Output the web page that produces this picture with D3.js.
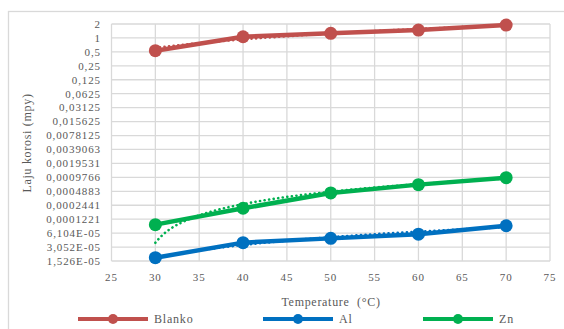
<!DOCTYPE html>
<html><head><meta charset="utf-8">
<script src="https://cdn.jsdelivr.net/npm/d3@7"></script>
<style>
html,body{margin:0;padding:0;background:#fff;}
svg{display:block;}
</style></head>
<body>
<svg id="c" width="564" height="329"></svg>
<script>
const temperatures = [30, 40, 50, 60, 70];
const seriesNames = ["Blanko", "Al", "Zn"];
const blanko = [0.53, 1.06, 1.26, 1.48, 1.9];
const al = [1.8e-5, 3.8e-5, 4.7e-5, 5.8e-5, 8.8e-5];
const zn = [9.3e-5, 2.1e-4, 4.5e-4, 6.8e-4, 9.6e-4];
const colors = ["#c0504d", "#0070c0", "#00b050"];
const xTicks = [25, 30, 35, 40, 45, 50, 55, 60, 65, 70, 75];
const yTickLabels = ["1,526E-05","3,052E-05","6,104E-05","0,0001221","0,0002441","0,0004883","0,0009766","0,0019531","0,0039063","0,0078125","0,015625","0,03125","0,0625","0,125","0,25","0,5","1","2"];
const yTickValues = d3.range(-16, 2).map(k => Math.pow(2, k));
const xTitle = "Temperature\u00a0 (°C)";
const yTitle = "Laju korosi (mpy)";

const FONT = "'Liberation Serif', 'DejaVu Serif', serif";
const allSeries = [blanko, al, zn];
const svg = d3.select("#c").style("font-family", FONT);
const L = 111.5, R = 550, T = 24, B = 261;

svg.append("rect").attr("x", 8.5).attr("y", 11.5).attr("width", 600).attr("height", 400)
  .attr("fill", "none").attr("stroke", "#d9d9d9").attr("stroke-width", 1.3);

const x = d3.scaleLinear().domain([25, 75]).range([L, R]);
const y = d3.scaleLog().base(2).domain([Math.pow(2, -16), 2]).range([B, T]);

const g = svg.append("g");
g.selectAll("line.h").data(yTickValues).join("line")
  .attr("x1", L).attr("x2", R).attr("y1", d => y(d)).attr("y2", d => y(d))
  .attr("stroke", "#d9d9d9").attr("stroke-width", 1.3);
g.selectAll("line.v").data(xTicks).join("line")
  .attr("y1", T).attr("y2", B).attr("x1", d => x(d)).attr("x2", d => x(d))
  .attr("stroke", "#d9d9d9").attr("stroke-width", 1.3);

function txt(sel) { return sel.attr("font-family", FONT).attr("fill", "#595959"); }

txt(g.selectAll("text.yl").data(yTickValues).join("text"))
  .attr("x", 101).attr("y", d => y(d)).attr("dy", "0.35em")
  .attr("text-anchor", "end").attr("font-size", 11).attr("letter-spacing", 0.9)
  .text((d, i) => yTickLabels[i]);
txt(g.selectAll("text.xl").data(xTicks).join("text"))
  .attr("x", d => x(d)).attr("y", 281)
  .attr("text-anchor", "middle").attr("font-size", 11).attr("letter-spacing", 0.9)
  .text(d => d);

txt(svg.append("text")).attr("x", 331).attr("y", 306).attr("text-anchor", "middle")
  .attr("font-size", 12).attr("letter-spacing", 0.7).text(xTitle);
txt(svg.append("text")).attr("transform", "translate(31,143) rotate(-90)").attr("text-anchor", "middle")
  .attr("font-size", 12).attr("letter-spacing", 0.7).text(yTitle);

function linFit(xs, ys) {
  const mx = d3.mean(xs), my = d3.mean(ys);
  let sxy = 0, sxx = 0;
  xs.forEach((xv, i) => { sxy += (xv - mx) * (ys[i] - my); sxx += (xv - mx) * (xv - mx); });
  const a = sxy / sxx; return xv => my + a * (xv - mx);
}
const line = d3.line().x(d => x(d[0])).y(d => y(d[1]));
allSeries.forEach((vals, si) => {
  const f = linFit(temperatures, vals);
  const pts = d3.range(30, 70.01, 0.5).map(t => [t, f(t)]).filter(p => p[1] > 0);
  svg.append("path").attr("d", line(pts)).attr("fill", "none")
    .attr("stroke", colors[si]).attr("stroke-width", 2.6)
    .attr("stroke-dasharray", "0.1 4.5").attr("stroke-linecap", "round");
});

allSeries.forEach((vals, si) => {
  const pts = temperatures.map((t, i) => [t, vals[i]]);
  svg.append("path").attr("d", line(pts)).attr("fill", "none")
    .attr("stroke", colors[si]).attr("stroke-width", 4.5).attr("stroke-linejoin", "round");
  svg.selectAll(null).data(pts).join("circle")
    .attr("cx", d => x(d[0])).attr("cy", d => y(d[1])).attr("r", 6.5)
    .attr("fill", colors[si]);
});

const legX = [78, 263, 423];
seriesNames.forEach((n, i) => {
  const lg = svg.append("g").attr("transform", `translate(${legX[i]},319)`);
  lg.append("line").attr("x1", 0).attr("x2", 70).attr("y1", 0).attr("y2", 0)
    .attr("stroke", colors[i]).attr("stroke-width", 4);
  lg.append("circle").attr("cx", 35).attr("cy", 0).attr("r", 5).attr("fill", colors[i]);
  txt(lg.append("text")).attr("x", 76).attr("y", 0).attr("dy", "0.35em").attr("font-size", 12)
    .attr("letter-spacing", 0.8).text(n);
});
</script>
</body></html>
